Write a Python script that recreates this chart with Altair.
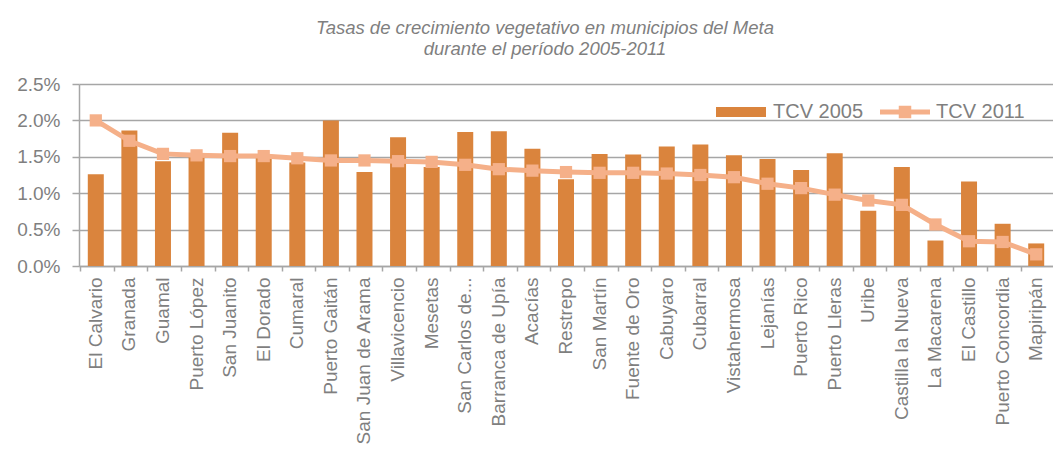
import altair as alt
import pandas as pd

municipios = ["El Calvario", "Granada", "Guamal", "Puerto López", "San Juanito", "El Dorado",
              "Cumaral", "Puerto Gaitán", "San Juan de Arama", "Villavicencio", "Mesetas",
              "San Carlos de...", "Barranca de Upía", "Acacías", "Restrepo", "San Martín",
              "Fuente de Oro", "Cabuyaro", "Cubarral", "Vistahermosa", "Lejanías", "Puerto Rico",
              "Puerto Lleras", "Uribe", "Castilla la Nueva", "La Macarena", "El Castillo",
              "Puerto Concordia", "Mapiripán"]
tcv2005 = [1.26, 1.86, 1.44, 1.50, 1.83, 1.49, 1.42, 2.00, 1.29, 1.77, 1.36, 1.84, 1.85, 1.61,
           1.19, 1.54, 1.53, 1.64, 1.67, 1.52, 1.47, 1.32, 1.55, 0.76, 1.36, 0.35, 1.16, 0.58, 0.31]
tcv2011 = [2.00, 1.72, 1.54, 1.52, 1.51, 1.51, 1.48, 1.45, 1.45, 1.44, 1.43, 1.39, 1.33, 1.31,
           1.29, 1.28, 1.28, 1.27, 1.25, 1.22, 1.13, 1.07, 0.98, 0.90, 0.84, 0.57, 0.34, 0.33, 0.16]
y_ticks = [0.0, 0.005, 0.01, 0.015, 0.02, 0.025]

df = pd.DataFrame({
    "municipio": municipios,
    "t2005": [v / 100 for v in tcv2005],
    "t2011": [v / 100 for v in tcv2011],
})

BAR = "#DA843D"
LINE = "#F5B089"
GREY = "#7F7F7F"
GRID = "#A6A6A6"
FONT = "Liberation Sans"

bar_sym = "M-1,-0.2L1,-0.2L1,0.2L-1,0.2Z"
line_sym = ("M-1,-0.1L-0.25,-0.1L-0.25,-0.25L0.25,-0.25L0.25,-0.1L1,-0.1L1,0.1L0.25,0.1"
            "L0.25,0.25L-0.25,0.25L-0.25,0.1L-1,0.1Z")

x_axis = alt.Axis(labelAngle=-90, labelAlign="right", labelBaseline="middle",
                  labelFontSize=19, labelColor=GREY, labelFont=FONT, labelPadding=6,
                  labelLimit=400, tickSize=5, tickColor=GRID, domainColor=GRID,
                  domainWidth=1.5, tickWidth=1.5, bandPosition=0, grid=False)
y_axis = alt.Axis(values=y_ticks, format=".1%", labelFontSize=19, labelColor=GREY,
                  labelFont=FONT, tickSize=7, labelPadding=12, tickColor=GRID,
                  domainColor=GRID, domainWidth=1.5, tickWidth=1.5,
                  gridColor=GRID, gridWidth=1.5, labelOverlap=False)
y_scale = alt.Scale(domain=[0, 0.025])

def X():
    return alt.X("municipio:N", sort=municipios, title=None, axis=x_axis)

legend_common = dict(orient="none", direction="horizontal", title=None, labelFontSize=20,
                     labelColor=GREY, labelFont=FONT, symbolSize=2500, symbolStrokeWidth=0,
                     padding=0)

bars = alt.Chart(df).transform_calculate(serie="'TCV 2005'").mark_bar(size=16).encode(
    x=X(),
    y=alt.Y("t2005:Q", title=None, scale=y_scale, axis=y_axis),
    color=alt.Color("serie:N", scale=alt.Scale(domain=["TCV 2005"], range=[BAR]),
                    legend=alt.Legend(legendX=637, legendY=3, symbolType=bar_sym,
                                      labelOffset=7, symbolFillColor=BAR, **legend_common)),
)

line = alt.Chart(df).mark_line(strokeWidth=5, color=LINE).encode(
    x=X(),
    y=alt.Y("t2011:Q", title=None, scale=y_scale, axis=y_axis),
)

points = alt.Chart(df).transform_calculate(serie2="'TCV 2011'").mark_square(
    size=150, filled=True, opacity=1).encode(
    x=X(),
    y=alt.Y("t2011:Q", title=None, scale=y_scale, axis=y_axis),
    color=alt.Color("serie2:N", scale=alt.Scale(domain=["TCV 2011"], range=[LINE]),
                    legend=alt.Legend(legendX=801, legendY=3, symbolType=line_sym,
                                      labelOffset=6, symbolFillColor=LINE, **legend_common)),
)

chart = alt.layer(bars, line, points).resolve_scale(color="independent").properties(
    width=974, height=182,
    autosize=alt.AutoSizeParams(type="none"),
    padding={"left": 71, "top": 76, "right": 0, "bottom": 184},
    title=alt.TitleParams(
        text=["Tasas de crecimiento vegetativo en municipios del Meta",
              "durante el período 2005-2011"],
        fontSize=18.5, fontStyle="italic", fontWeight="normal", color=GREY, font=FONT,
        lineHeight=21, anchor="middle", dx=-21, offset=17),
).configure_view(stroke=None)

chart.save("out.html", embed_options={"renderer": "svg", "actions": False})
